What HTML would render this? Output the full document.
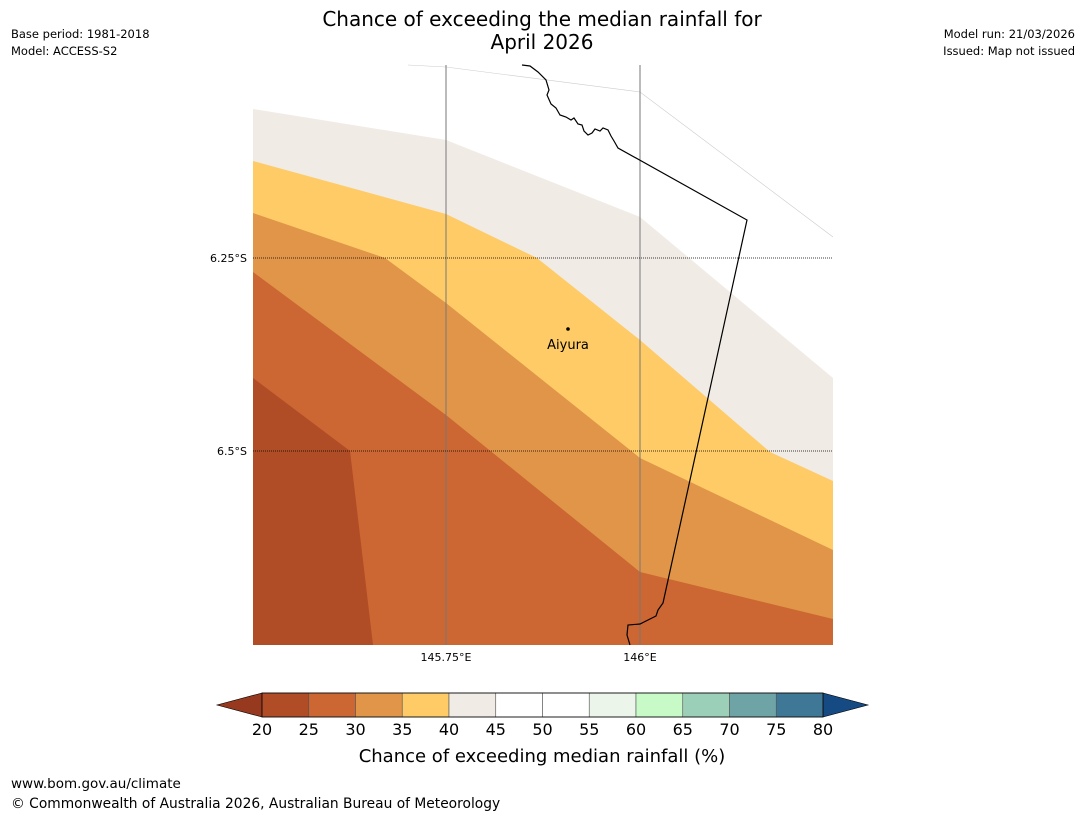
<!DOCTYPE html>
<html><head><meta charset="utf-8"><style>
body{margin:0;background:#fff;font-family:"Liberation Sans",sans-serif}
svg text{font-family:"DejaVu Sans","Liberation Sans",sans-serif}
</style></head><body>
<svg width="1085" height="816" viewBox="0 0 1085 816">
<text x="542" y="26" font-size="20" text-anchor="middle">Chance of exceeding the median rainfall for</text>
<text x="542" y="49" font-size="20" text-anchor="middle">April 2026</text>
<text x="11" y="38" font-size="11.5">Base period: 1981-2018</text>
<text x="11" y="55" font-size="11.5">Model: ACCESS-S2</text>
<text x="1075" y="38" font-size="11.5" text-anchor="end">Model run: 21/03/2026</text>
<text x="1075" y="55" font-size="11.5" text-anchor="end">Issued: Map not issued</text>
<g>
<polygon points="253,109 446,140 640,217 833,378 833,645 253,645" fill="#f0ebe5"/>
<polygon points="253,161 446,214 537,258 640,340 770,452 833,481 833,645 253,645" fill="#fecb66"/>
<polygon points="253,213 385,258 446,303 640,458 833,550 833,645 253,645" fill="#e09548"/>
<polygon points="253,272 446,415 640,572 833,619 833,645 253,645" fill="#cc6632"/>
<polygon points="253,378 350,451 373,645 253,645" fill="#b04c26"/>
<polyline points="408,65 446,67 640,92 833,237" fill="none" stroke="#ccc" stroke-width="0.6"/>
<line x1="446" y1="65" x2="446" y2="645" stroke="#777" stroke-width="1"/>
<line x1="640" y1="65" x2="640" y2="645" stroke="#777" stroke-width="1"/>
<line x1="253" y1="258" x2="833" y2="258" stroke="#000" stroke-width="0.8" stroke-dasharray="1,1"/>
<line x1="253" y1="451" x2="833" y2="451" stroke="#000" stroke-width="0.8" stroke-dasharray="1,1"/>
<polyline points="522,65 530,66 538,72 546,80 549,90 547,95 551,104 556,108 560,115 566,117 571,120 574,118 578,124 582,125 584,131 588,135 592,133 595,129 600,131 603,128 608,130 611,136 614,141 618,148 747,220 663,603 658,610 656,616 648,620 640,624 628,625 627,635 630,645" fill="none" stroke="#000" stroke-width="1.2"/>
<circle cx="568" cy="329" r="1.8" fill="#000"/>
<text x="568" y="349" font-size="13" text-anchor="middle">Aiyura</text>
<text x="247" y="262" font-size="11" text-anchor="end">6.25°S</text>
<text x="247" y="455" font-size="11" text-anchor="end">6.5°S</text>
<text x="446" y="661" font-size="11" text-anchor="middle">145.75°E</text>
<text x="640" y="661" font-size="11" text-anchor="middle">146°E</text>
</g>
<g id="cbar"></g>
<text x="542" y="762" font-size="18" text-anchor="middle">Chance of exceeding median rainfall (%)</text>
<text x="11" y="788" font-size="13.5">www.bom.gov.au/climate</text>
<text x="11" y="808" font-size="13.8">© Commonwealth of Australia 2026, Australian Bureau of Meteorology</text>
</svg>
<script>
const ticks=[20,25,30,35,40,45,50,55,60,65,70,75,80];
const colors=["#b04c26","#cc6632","#e09548","#fecb66","#f0ebe5","#ffffff","#ffffff","#ebf5e9","#c8fac8","#9ccfb8","#6ea4a6","#3f7896"];
const ns="http://www.w3.org/2000/svg",g=document.getElementById('cbar');
const x0=262,x1=823,y0=693,y1=717;
function X(v){return x0+(v-ticks[0])/(ticks[ticks.length-1]-ticks[0])*(x1-x0);}
function mk(t,a){const e=document.createElementNS(ns,t);for(const k in a)e.setAttribute(k,a[k]);g.appendChild(e);return e;}
const lt=mk('polygon',{points:`${x0},${y0} ${x0},${y1} 217,705`,fill:'#96391e',stroke:'#000','stroke-width':0.6});


const rt=mk('polygon',{points:`${x1},${y0} ${x1},${y1} 868,705`,fill:'#154a82',stroke:'#000','stroke-width':0.6});


colors.forEach((c,i)=>{const r=mk('rect',{x:X(ticks[i]),y:y0,width:X(ticks[i+1])-X(ticks[i]),height:y1-y0,fill:c,stroke:'#555','stroke-width':0.6});

});
mk('rect',{x:x0,y:y0,width:x1-x0,height:y1-y0,fill:'none',stroke:'#000','stroke-width':0.8});
ticks.forEach(t=>{const e=mk('text',{x:X(t),y:735,'font-size':16,'text-anchor':'middle'});e.textContent=t;

});
</script>
</body></html>
